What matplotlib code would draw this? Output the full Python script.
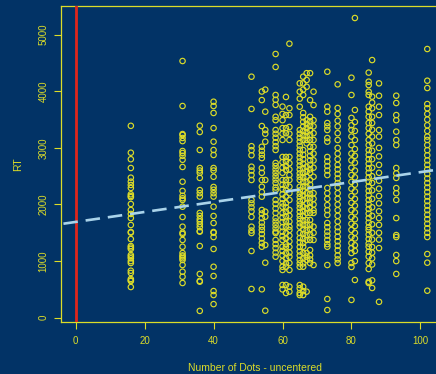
import matplotlib
matplotlib.use("Agg")
import matplotlib.pyplot as plt
import numpy as np

# ---- data (RT per number-of-dots column) ----
col16 = [3390, 2915, 2800, 2645, 2474, 2403, 2345, 2292, 2180, 2150, 2130, 2009, 1903, 1833, 1761,
         1638, 1514, 1502, 1390, 1267, 1240, 1214, 1108, 1080, 1050, 1000, 966, 830, 790, 684, 660, 648, 542]
col31 = [4535, 3740, 3245, 3228, 3175, 3120, 2945, 2910, 2860, 2790, 2663, 2403, 2240, 2155, 2110, 2080,
         1961, 1779, 1608, 1502, 1479, 1373, 1254, 1143, 1100, 1080, 1050, 1020, 931, 813, 724, 613]
col36 = [3392, 3280, 2963, 2645, 2600, 2560, 2470, 2255, 2200, 2140, 1850, 1800, 1740, 1700, 1650, 1600,
         1530, 1520, 1267, 773, 650, 636, 120]
col40 = [3816, 3740, 3617, 3350, 3110, 2963, 2875, 2645, 2600, 2490, 2310, 2260, 2200, 2140, 1961, 1797,
         1673, 1514, 1500, 1425, 1214, 900, 737, 471, 400, 240]
col51 = [4258, 3688, 3030, 2960, 2870, 2668, 2600, 2520, 2433, 2080, 2020, 1950, 1880, 1780, 1608, 1540,
         1496, 1178, 507]
col54 = [3996, 3845, 3386, 3020, 2950, 2880, 2820, 2645, 2560, 2433, 2314, 2220, 2138, 1903, 1840, 1760,
         1680, 1608, 1550, 1480, 1400, 1320, 1254, 502]
col55 = [4030, 3640, 3316, 3250, 3110, 2433, 1873, 1785, 1284, 972, 124]
col58 = [4659, 4430, 3935, 3850, 3760, 3550, 3490, 3316, 3250, 3180, 3100, 3030, 2963, 2733, 2680, 2620,
         2560, 2500, 2440, 2380, 2300, 2256, 2080, 2010, 1930, 1850, 1760, 1700, 1640, 1580, 1520, 1496,
         1373, 1300, 1230, 1150, 1078]
col60 = [3730, 3600, 3490, 3350, 3250, 3140, 2840, 2750, 2650, 2560, 2433, 2350, 2270, 2180, 2100, 2020,
         1960, 1850, 1770, 1690, 1600, 1520, 1440, 1373, 1254, 1180, 1100, 1000, 900, 843, 578, 500]
col61 = [3900, 3580, 3350, 3260, 2840, 2760, 2680, 2610, 2433, 2340, 2250, 2138, 2026, 1950, 1870, 1790,
         1700, 1608, 1496, 1400, 1300, 1254, 1143, 1050, 960, 900, 578, 436]
col62 = [4841, 3700, 3580, 3370, 3250, 3140, 2840, 2730, 2620, 2520, 2433, 2314, 2200, 2080, 1903, 1800,
         1700, 1608, 1550, 1450, 1350, 1250, 1150, 1078, 966, 843, 548, 460]
col65 = [4141, 3993, 3870, 3728, 3316, 3250, 3180, 3110, 3040, 2970, 2900, 2830, 2760, 2690, 2620, 2550,
         2490, 2433, 2314, 2250, 2190, 2130, 2060, 2000, 1940, 1870, 1800, 1740, 1670, 1608, 1496, 1408,
         1330, 1250, 1170, 1100, 1020, 960, 900, 578, 520, 436, 400]
col66 = [4258, 4141, 4030, 3935, 3617, 3540, 3460, 3380, 3300, 3220, 3140, 2963, 2880, 2800, 2720, 2640,
         2560, 2480, 2400, 2320, 2240, 2160, 2080, 1961, 1880, 1800, 1720, 1640, 1560, 1480, 1400, 1320,
         1254, 1143, 1050, 960, 900, 548, 470, 400]
col67 = [4320, 4200, 4080, 3490, 3420, 3350, 3280, 3210, 3140, 3080, 2668, 2580, 2490, 2400, 2314, 2200,
         2110, 2020, 1930, 1850, 1726, 1640, 1550, 1460, 1373, 1143, 1080, 1020, 460]
col68 = [4320, 3845, 3550, 3470, 3390, 3310, 3230, 3140, 3020, 2940, 2860, 2780, 2700, 2620, 2560, 2433,
         2350, 2270, 2190, 2110, 2030, 1950, 1850, 1726, 1640, 1560, 1470, 1373, 1196, 1100, 1030, 966]
col69 = [3993, 3757, 3490, 3380, 3260, 3140, 3020, 2900, 2780, 2650, 2490, 2200, 2100, 2000, 1900, 1850,
         1608, 1500, 1373, 931]
col73 = [4346, 3728, 3640, 3440, 3380, 3316, 3175, 3110, 2840, 2760, 2680, 2600, 2520, 2292, 2200, 2100,
         1990, 1900, 1815, 1673, 1600, 1520, 1450, 1373, 1300, 1254, 931, 330, 136]
col76 = [4123, 3705, 3600, 3480, 3380, 3260, 3140, 3000, 2900, 2800, 2700, 2620, 2540, 2460, 2380, 2300,
         2200, 2100, 2000, 1900, 1800, 1700, 1600, 1520, 1431, 1350, 1270, 1190, 1100, 1030, 966]
col80 = [4240, 3935, 3530, 3400, 3316, 3200, 3050, 2900, 2780, 2650, 2520, 2400, 2280, 2150, 2030, 1900,
         1780, 1660, 1550, 1431, 1320, 1230, 1143, 966, 896, 314]
col81 = [5295, 3670, 3458, 3300, 3140, 2980, 2860, 2740, 2600, 2480, 2350, 2230, 2100, 1980, 1860, 1740,
         1620, 1500, 1400, 1280, 1180, 1000, 666]
col85 = [4330, 4170, 4110, 3993, 3935, 3728, 3640, 3550, 3440, 3350, 3250, 3140, 3050, 2960, 2880, 2800,
         2720, 2640, 2560, 2480, 2400, 2320, 2240, 2160, 2080, 2000, 1920, 1840, 1760, 1680, 1600, 1550,
         1470, 1390, 1310, 1254, 1166, 1080, 966, 860, 636, 613]
col86 = [4552, 3905, 3800, 3700, 3550, 3440, 3320, 3200, 3080, 2950, 2800, 2650, 2500, 2380, 2250, 2100,
         1950, 1800, 1650, 1500, 1380, 1250, 1150, 1050, 940, 660, 525]
col88 = [4140, 3922, 3728, 3580, 3316, 3200, 3000, 2850, 2700, 2560, 2420, 2280, 2150, 2020, 1880, 1760,
         1640, 1500, 1380, 1230, 280]
col93 = [3922, 3793, 3580, 3490, 3287, 3140, 3050, 2645, 2550, 2470, 2290, 2200, 2080, 1760, 1460, 1425,
         1108, 1000, 773]
col102 = [4747, 4187, 4058, 3775, 3700, 3600, 3500, 3400, 3300, 3200, 3140, 3050, 2960, 2870, 2780, 2700,
          2620, 2540, 2460, 2380, 2300, 2220, 2140, 2060, 1980, 1900, 1820, 1740, 1660, 1580, 1500, 1425,
          1125, 972, 477]

dots_levels = [16, 31, 36, 40, 51, 54, 55, 58, 60, 61, 62, 65, 66, 67, 68, 69, 73, 76, 80, 81, 85, 86, 88, 93, 102]
rt_columns = [col16, col31, col36, col40, col51, col54, col55, col58, col60, col61, col62, col65, col66,
              col67, col68, col69, col73, col76, col80, col81, col85, col86, col88, col93, col102]

fit_intercept = 1692
fit_slope = 8.8

x_ticks = [0, 20, 40, 60, 80, 100]
y_ticks = [0, 1000, 2000, 3000, 4000, 5000]

# ---- styling ----
bg = "#023366"
yellow = "#dcdc28"

x = np.concatenate([[d] * len(c) for d, c in zip(dots_levels, rt_columns)])
y = np.concatenate(rt_columns)

plt.rcParams['font.family'] = ['Liberation Sans', 'DejaVu Sans']
fig = plt.figure(figsize=(4.36, 3.74), dpi=100, facecolor=bg)
ax = fig.add_axes([61 / 436, 1 - 322 / 374, (449 - 61) / 436, (322 - 6) / 374])
ax.set_facecolor(bg)

ax.scatter(x, y, s=15, facecolors="none", edgecolors=yellow, linewidths=0.85, zorder=3)

ax.axvline(0, color="#e0261c", lw=2.0, zorder=4)

xs = np.array([-10, 120])
ax.plot(xs, fit_intercept + fit_slope * xs, color="#a9d3ea", lw=1.9, dashes=(5.5, 3), zorder=5)

ax.set_xlim(-4.26, 108.3)
ax.set_ylim(-76, 5507)
ax.set_xticks(x_ticks)
ax.set_yticks(y_ticks)

for side in ["left", "bottom", "top", "right"]:
    ax.spines[side].set_color(yellow)
    ax.spines[side].set_linewidth(0.9)

ax.tick_params(colors=yellow, labelcolor=yellow, length=5, width=0.8, labelsize=7, direction="out")
for lab in ax.get_yticklabels():
    lab.set_rotation(90)
    lab.set_va("center")
ax.tick_params(axis="y", pad=4)
ax.tick_params(axis="x", pad=5)

ax.set_xlabel("Number of Dots - uncentered", color=yellow, fontsize=7.5, labelpad=12)
ax.set_ylabel("RT", color=yellow, fontsize=7.5, labelpad=11)

fig.savefig("out.png", dpi=100, facecolor=bg)
